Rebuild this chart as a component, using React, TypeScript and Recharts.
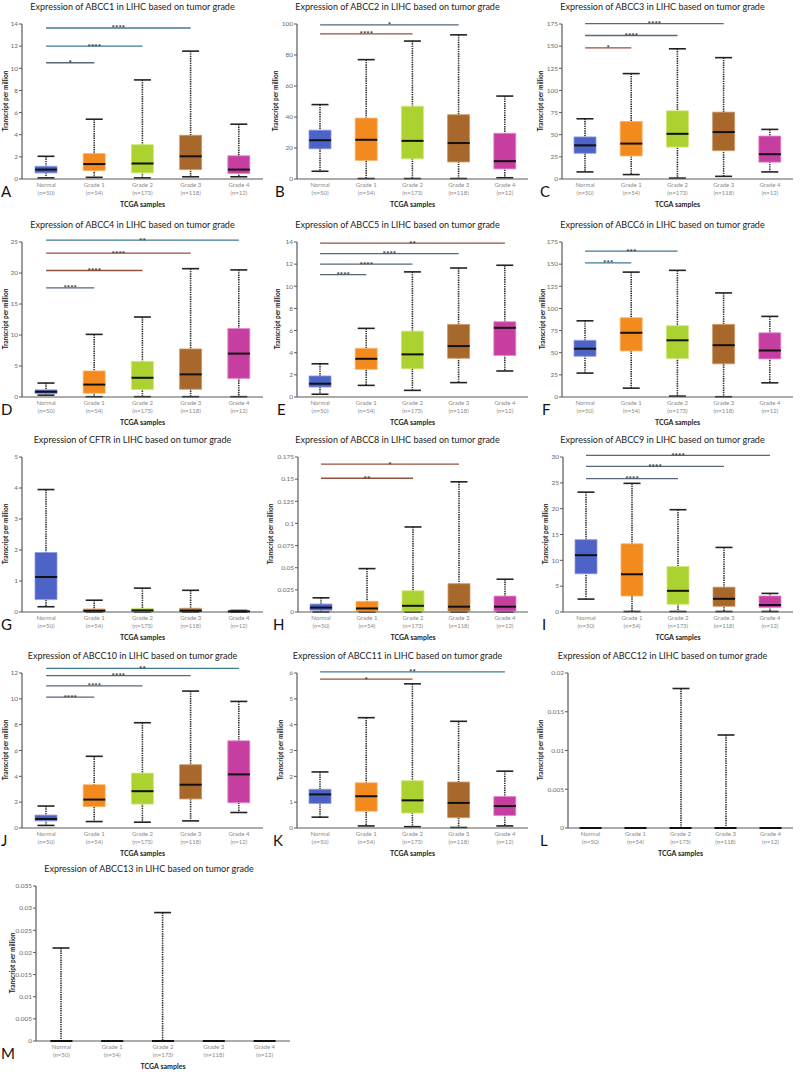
import React from 'react';
import { ComposedChart, Bar, Scatter, XAxis, YAxis, ReferenceLine, Cell } from 'recharts';

const FONT = 'Lato, "Liberation Sans", sans-serif';

const GRADES = ['Normal', 'Grade 1', 'Grade 2', 'Grade 3', 'Grade 4'];
const COUNTS = ['(n=50)', '(n=54)', '(n=173)', '(n=118)', '(n=12)'];
const BOX_COLORS = ['#4d63c6', '#f28a1e', '#abd230', '#a8682c', '#c63ea0'];
const BOX_EDGES = ['#8d9be6', '#f9b46a', '#cfe97a', '#cc9868', '#e58acb'];

// each row: [min, q1, median, q3, max] for Normal, Grade 1..4
const ABCC1 = [[0.1, 0.55, 0.85, 1.15, 2.05], [0.15, 0.75, 1.35, 2.3, 5.4], [0.1, 0.55, 1.4, 3.1, 8.95], [0.2, 0.85, 2.05, 3.95, 11.55], [0.2, 0.5, 0.85, 2.1, 4.95]];
const ABCC2 = [[5, 19.5, 25, 31.5, 48], [0.3, 12, 25.3, 39.3, 77], [0.3, 13, 24.6, 47, 89], [0.3, 11, 23.2, 41.5, 93], [0.8, 6.5, 11.5, 29.5, 53.5]];
const ABCC3 = [[8, 29, 38, 47.5, 68], [5, 26, 40, 65, 119], [1, 36, 51, 77, 147], [3, 32, 53, 75.5, 137], [8, 19, 28, 48.5, 56]];
const ABCC4 = [[0.3, 0.55, 0.85, 1.15, 2.25], [0.05, 0.6, 2.0, 4.2, 10.1], [0.05, 1.2, 3.1, 5.75, 12.9], [0.05, 1.25, 3.65, 7.75, 20.7], [0.05, 3.0, 7.0, 11.05, 20.5]];
const ABCC5 = [[0.25, 0.9, 1.2, 1.9, 3.0], [1.05, 2.5, 3.45, 4.4, 6.2], [0.6, 2.55, 3.85, 5.95, 11.3], [1.3, 3.5, 4.6, 6.55, 11.65], [2.35, 3.75, 6.25, 6.8, 11.9]];
const ABCC6 = [[27, 46, 54.5, 64, 86], [10, 52, 72.5, 89.5, 141], [1, 43.5, 64, 80.5, 143], [0.3, 37.5, 58.5, 82, 117.5], [16, 43, 52.5, 72.5, 91]];
const CFTR = [[0.17, 0.4, 1.13, 1.92, 3.95], [0, 0.02, 0.04, 0.1, 0.38], [0, 0.02, 0.05, 0.12, 0.77], [0, 0.02, 0.04, 0.12, 0.7], [0, 0.01, 0.02, 0.03, 0.05]];
const ABCC8 = [[0, 0.002, 0.005, 0.009, 0.016], [0, 0.001, 0.004, 0.012, 0.049], [0, 0.001, 0.007, 0.024, 0.096], [0, 0.001, 0.006, 0.032, 0.147], [0, 0.001, 0.006, 0.018, 0.037]];
const ABCC9 = [[2.5, 7.4, 11, 14, 23.2], [0.1, 3.1, 7.3, 13.2, 24.9], [0.1, 1.5, 4.1, 8.8, 19.8], [0.1, 1.1, 2.55, 4.8, 12.5], [0.1, 0.85, 1.35, 3.1, 3.6]];
const ABCC10 = [[0.2, 0.55, 0.7, 1.0, 1.7], [0.5, 1.65, 2.2, 3.35, 5.55], [0.45, 1.85, 2.85, 4.25, 8.15], [0.55, 2.25, 3.35, 4.9, 10.6], [1.2, 1.95, 4.15, 6.75, 9.8]];
const ABCC11 = [[0.42, 0.95, 1.3, 1.5, 2.17], [0.08, 0.65, 1.23, 1.75, 4.27], [0.05, 0.58, 1.07, 1.83, 5.58], [0.02, 0.4, 0.97, 1.78, 4.13], [0.08, 0.48, 0.85, 1.22, 2.2]];
const ABCC12 = [[0, 0, 0, 0, 0], [0, 0, 0, 0, 0], [0, 0, 0, 0, 0.018], [0, 0, 0, 0, 0.012], [0, 0, 0, 0, 0]];
const ABCC13 = [[0, 0, 0, 0, 0.021], [0, 0, 0, 0, 0], [0, 0, 0, 0, 0.029], [0, 0, 0, 0, 0], [0, 0, 0, 0, 0]];

// y ticks
const T_ABCC1 = [0, 2, 4, 6, 8, 10, 12, 14];
const T_ABCC2 = [0, 20, 40, 60, 80, 100];
const T_ABCC3 = [0, 25, 50, 75, 100, 125, 150, 175];
const T_ABCC4 = [0, 5, 10, 15, 20, 25];
const T_ABCC5 = [0, 2, 4, 6, 8, 10, 12, 14];
const T_ABCC6 = [0, 25, 50, 75, 100, 125, 150, 175];
const T_CFTR = [0, 1, 2, 3, 4, 5];
const T_ABCC8 = [0, 0.025, 0.05, 0.075, 0.1, 0.125, 0.15, 0.175];
const T_ABCC9 = [0, 5, 10, 15, 20, 25, 30];
const T_ABCC10 = [0, 2, 4, 6, 8, 10, 12];
const T_ABCC11 = [0, 1, 2, 3, 4, 5, 6];
const T_ABCC12 = [0, 0.005, 0.01, 0.015, 0.02];
const T_ABCC13 = [0, 0.005, 0.01, 0.015, 0.02, 0.025, 0.03, 0.035];

// significance brackets from Normal: [to grade index, y value, stars]
const S_ABCC1 = [[1, 10.5, '*'], [2, 12.0, '****'], [3, 13.64, '****']];
const S_ABCC2 = [[2, 93.6, '****'], [3, 99.4, '*']];
const S_ABCC3 = [[1, 148, '*'], [2, 162, '****'], [3, 175.5, '****']];
const S_ABCC4 = [[1, 17.6, '****'], [2, 20.4, '****'], [3, 23.2, '****'], [4, 25.3, '**']];
const S_ABCC5 = [[1, 11.05, '****'], [2, 12.0, '****'], [3, 12.95, '****'], [4, 13.9, '**']];
const S_ABCC6 = [[1, 151.5, '***'], [2, 164.8, '***']];
const S_ABCC8 = [[2, 0.151, '**'], [3, 0.167, '*']];
const S_ABCC9 = [[2, 25.8, '****'], [3, 28.2, '****'], [4, 30.3, '****']];
const S_ABCC10 = [[1, 10.13, '****'], [2, 11.0, '****'], [3, 11.8, '****'], [4, 12.36, '**']];
const S_ABCC11 = [[2, 5.76, '*'], [4, 6.04, '**']];

const SLATE = '#56687a';
const RUST = '#94503f';
const TEAL = '#3f7896';

const PANELS = [
  { gene: 'ABCC1', letter: 'A', stats: ABCC1, ticks: T_ABCC1, sig: S_ABCC1, sigColors: [SLATE, TEAL, TEAL], x: 0, y: 0, w: 265, axisW: 22, plotR: 263, labX: 5, letX: 1 },
  { gene: 'ABCC2', letter: 'B', stats: ABCC2, ticks: T_ABCC2, sig: S_ABCC2, sigColors: [RUST, SLATE], x: 265, y: 0, w: 265, axisW: 32, plotR: 263, labX: 10, letX: 10 },
  { gene: 'ABCC3', letter: 'C', stats: ABCC3, ticks: T_ABCC3, sig: S_ABCC3, sigColors: [RUST, SLATE, SLATE], x: 530, y: 0, w: 265, axisW: 32, plotR: 263, labX: 10, letX: 10 },
  { gene: 'ABCC4', letter: 'D', stats: ABCC4, ticks: T_ABCC4, sig: S_ABCC4, sigColors: [SLATE, RUST, RUST, TEAL], x: 0, y: 218, w: 265, axisW: 22, plotR: 263, labX: 5, letX: 1 },
  { gene: 'ABCC5', letter: 'E', stats: ABCC5, ticks: T_ABCC5, sig: S_ABCC5, sigColors: [SLATE, SLATE, SLATE, RUST], x: 265, y: 218, w: 265, axisW: 32, plotR: 263, labX: 12, letX: 12 },
  { gene: 'ABCC6', letter: 'F', stats: ABCC6, ticks: T_ABCC6, sig: S_ABCC6, sigColors: [TEAL, TEAL], x: 530, y: 218, w: 265, axisW: 32, plotR: 263, labX: 12, letX: 12 },
  { gene: 'CFTR', letter: 'G', stats: CFTR, ticks: T_CFTR, sig: [], sigColors: [], x: 0, y: 433, w: 265, axisW: 22, plotR: 263, labX: 5, letX: 1 },
  { gene: 'ABCC8', letter: 'H', stats: ABCC8, ticks: T_ABCC8, sig: S_ABCC8, sigColors: [RUST, RUST], x: 265, y: 433, w: 265, axisW: 33, plotR: 263, labX: 5, letX: 8 },
  { gene: 'ABCC9', letter: 'I', stats: ABCC9, ticks: T_ABCC9, sig: S_ABCC9, sigColors: [SLATE, SLATE, SLATE], x: 530, y: 433, w: 265, axisW: 33, plotR: 263, labX: 15, letX: 12 },
  { gene: 'ABCC10', letter: 'J', stats: ABCC10, ticks: T_ABCC10, sig: S_ABCC10, sigColors: [SLATE, SLATE, SLATE, TEAL], x: 0, y: 649, w: 265, axisW: 22, plotR: 263, labX: 5, letX: 1 },
  { gene: 'ABCC11', letter: 'K', stats: ABCC11, ticks: T_ABCC11, sig: S_ABCC11, sigColors: [RUST, TEAL], x: 265, y: 649, w: 265, axisW: 32, plotR: 263, labX: 15, letX: 8 },
  { gene: 'ABCC12', letter: 'L', stats: ABCC12, ticks: T_ABCC12, sig: [], sigColors: [], x: 530, y: 649, w: 265, axisW: 38, plotR: 263, labX: 10, letX: 10 },
  { gene: 'ABCC13', letter: 'M', stats: ABCC13, ticks: T_ABCC13, sig: [], sigColors: [], x: 0, y: 862, w: 295, axisW: 36, plotR: 290, labX: 12, letX: 1 },
];

const Whisker = (props: any) => {
  const { x, y, width, height } = props;
  const cx = x + width / 2;
  const top = Math.min(y, y + height);
  const bot = Math.max(y, y + height);
  return (
    <g>
      <line x1={cx} x2={cx} y1={top} y2={bot} stroke="#333" strokeWidth={1.6} strokeDasharray="1.4 0.9" />
      <line x1={cx - 8.5} x2={cx + 8.5} y1={top} y2={top} stroke="#222" strokeWidth={1.6} />
      <line x1={cx - 8.5} x2={cx + 8.5} y1={bot} y2={bot} stroke="#222" strokeWidth={1.6} />
    </g>
  );
};

const MedianMark = (props: any) => (
  <line x1={props.cx - 11} x2={props.cx + 11} y1={props.cy} y2={props.cy} stroke="#111" strokeWidth={2} />
);

function GradeTick(props: any) {
  const { x, y, payload } = props;
  const i = GRADES.indexOf(payload.value);
  return (
    <text x={x} y={y} textAnchor="middle" fontSize={6} fill="#8a8a8a" fontFamily={FONT}>
      <tspan x={x} dy={8}>{payload.value}</tspan>
      <tspan x={x} dy={8}>{COUNTS[i]}</tspan>
    </text>
  );
}

function Panel({ p }: { p: any }) {
  const data = GRADES.map((g, i) => ({
    grade: g,
    whisker: [p.stats[i][0], p.stats[i][4]],
    box: [p.stats[i][1], p.stats[i][3]],
    median: p.stats[i][2],
  }));
  const yMax = p.ticks[p.ticks.length - 1];

  return (
    <div style={{ position: 'absolute', left: p.x, top: p.y, width: p.w, height: 216, fontFamily: FONT }}>
      <div style={{ position: 'absolute', left: 0, top: 0, width: 265 + (p.w - 265) * 1.1, textAlign: 'center', fontSize: 9, lineHeight: '14px', color: '#222', whiteSpace: 'nowrap' }}>
        Expression of {p.gene} in LIHC based on tumor grade
      </div>
      <div style={{ position: 'absolute', left: p.labX, top: 101, transform: 'translate(-50%, -50%) rotate(-90deg)', fontSize: 6.5, fontWeight: 700, color: '#222', whiteSpace: 'nowrap' }}>
        Transcript per million
      </div>
      <div style={{ position: 'absolute', left: p.letX, top: 184, fontSize: 15, lineHeight: '15px', color: '#111' }}>{p.letter}</div>
      <ComposedChart
        width={p.w}
        height={216}
        data={data}
        margin={{ top: 24, right: p.w - p.plotR, bottom: 3, left: 0 }}
        barSize={22}
        barGap={-22}
      >
        <XAxis
          dataKey="grade"
          height={34}
          interval={0}
          tickSize={0}
          tickMargin={0}
          tick={(tp: any) => <GradeTick {...tp} />}
          axisLine={{ stroke: '#5a5a5a', strokeWidth: 1.2 }}
          label={{ value: 'TCGA samples', position: 'insideBottom', offset: 6, fontSize: 7, fontWeight: 700, fill: '#222', fontFamily: FONT }}
        />
        <YAxis
          width={p.axisW}
          domain={[0, yMax]}
          ticks={p.ticks}
          interval={0}
          tickSize={3}
          tickMargin={1}
          tick={{ fontSize: 6.5, fill: '#6a6a6a', fontFamily: FONT }}
          tickLine={{ stroke: '#5a5a5a' }}
          axisLine={{ stroke: '#5a5a5a', strokeWidth: 1.2 }}
        />
        <Bar dataKey="whisker" shape={Whisker} isAnimationActive={false} />
        <Bar dataKey="box" isAnimationActive={false}>
          {GRADES.map((g, i) => (
            <Cell key={g} fill={BOX_COLORS[i]} stroke={BOX_EDGES[i]} strokeWidth={0.8} />
          ))}
        </Bar>
        <Scatter dataKey="median" shape={MedianMark} isAnimationActive={false} />
        {p.sig.map((s: any, k: number) => (
          <ReferenceLine
            key={k}
            segment={[{ x: 'Normal', y: s[1] }, { x: GRADES[s[0]], y: s[1] }]}
            stroke={p.sigColors[k]}
            strokeWidth={1.3}
            ifOverflow="visible"
            label={{ value: s[2], position: 'top', offset: -3.5, fontSize: 8, fontWeight: 700, fill: '#333', fontFamily: FONT }}
          />
        ))}
      </ComposedChart>
    </div>
  );
}

export default function App() {
  return (
    <div style={{ position: 'absolute', left: 0, top: 0, width: 800, height: 1072, background: '#fff' }}>
      {PANELS.map((p) => (
        <Panel key={p.gene} p={p} />
      ))}
    </div>
  );
}
